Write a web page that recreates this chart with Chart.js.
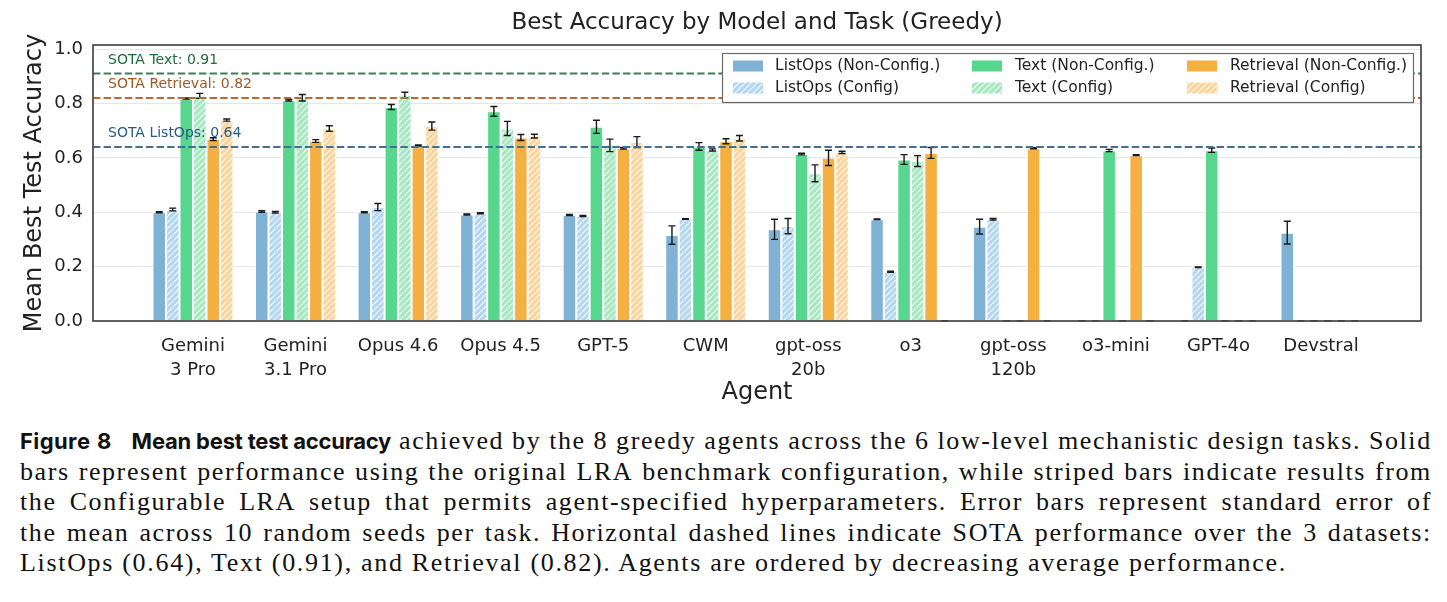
<!DOCTYPE html>
<html>
<head>
<meta charset="utf-8">
<script src="https://cdn.jsdelivr.net/npm/chart.js@4.4.1/dist/chart.umd.min.js"></script>
<style>
html, body { margin: 0; padding: 0; background: #fff; }
#wrap { position: relative; width: 1447px; height: 602px; overflow: hidden; }
#chart { position: absolute; left: 0; top: 0; }
#caption { position: absolute; left: 20px; top: 426px; width: 1412px; color: #111;
  font-family: "Liberation Serif", serif; font-size: 26px; letter-spacing: 1.6px; }
.line { display: flex; justify-content: space-between; white-space: nowrap; height: 30.5px; line-height: 30.5px; }
.line.last { display: block; letter-spacing: 1.68px; }
.b { font-family: Inter, "Noto Sans", sans-serif; font-weight: 700; font-size: 22px; letter-spacing: -0.2px; }
.fig { margin-right: 12px; letter-spacing: 0.4px; word-spacing: 1px; }
</style>
</head>
<body>
<div id="wrap">
  <canvas id="chart" width="1447" height="410"></canvas>
  <div id="caption"></div>
</div>
<script>
// categories
const agents = ['Gemini\n3 Pro', 'Gemini\n3.1 Pro', 'Opus 4.6', 'Opus 4.5', 'GPT-5', 'CWM',
  'gpt-oss\n20b', 'o3', 'gpt-oss\n120b', 'o3-mini', 'GPT-4o', 'Devstral'];

// mean best test accuracy + standard error
const listopsNC    = [0.400, 0.403, 0.400, 0.392, 0.390, 0.316, 0.337, 0.374, 0.347, 0, 0, 0.325];
const listopsNCErr = [0.002, 0.003, 0.002, 0.002, 0.002, 0.034, 0.037, 0.001, 0.027, 0, 0, 0.042];
const listopsC     = [0.410, 0.400, 0.419, 0.396, 0.386, 0.375, 0.349, 0.181, 0.374, 0, 0.198, 0];
const listopsCErr  = [0.005, 0.003, 0.013, 0.002, 0.002, 0.001, 0.028, 0.002, 0.003, 0, 0.001, 0];
const textNC       = [0.818, 0.812, 0.787, 0.771, 0.714, 0.642, 0.614, 0.594, 0, 0.627, 0.628, 0];
const textNCErr    = [0.002, 0.003, 0.009, 0.018, 0.024, 0.014, 0.003, 0.018, 0, 0.004, 0.008, 0];
const textC        = [0.828, 0.821, 0.831, 0.708, 0.646, 0.629, 0.543, 0.588, 0, 0, 0, 0];
const textCErr     = [0.009, 0.012, 0.010, 0.026, 0.023, 0.004, 0.031, 0.020, 0, 0, 0, 0];
const retrNC       = [0.669, 0.662, 0.645, 0.675, 0.635, 0.661, 0.600, 0.618, 0.635, 0.610, 0, 0];
const retrNCErr    = [0.005, 0.005, 0.002, 0.011, 0.003, 0.009, 0.028, 0.020, 0.002, 0.002, 0, 0];
const retrC        = [0.739, 0.708, 0.717, 0.680, 0.658, 0.672, 0.620, 0, 0, 0, 0, 0];
const retrCErr     = [0.004, 0.010, 0.015, 0.007, 0.020, 0.010, 0.004, 0, 0, 0, 0, 0];

// SOTA reference lines
const sotaNames  = ['Text', 'Retrieval', 'ListOps'];
const sotaValues = [0.91, 0.82, 0.64];

const yTicks = [0, 0.2, 0.4, 0.6, 0.8, 1.0];

// diagonal white hatch like matplotlib '///'
function hatch(base) {
  const c = document.createElement('canvas');
  c.width = c.height = 6;
  const g = c.getContext('2d');
  g.fillStyle = base;
  g.fillRect(0, 0, 6, 6);
  g.strokeStyle = 'rgba(255,255,255,0.9)';
  g.lineWidth = 1.1;
  g.beginPath();
  [-6, 0, 6].forEach(o => { g.moveTo(o, 6); g.lineTo(o + 6, 0); });
  g.stroke();
  return g.createPattern(c, 'repeat');
}

const series = [
  { label: 'ListOps (Non-Config.)', values: listopsNC, errors: listopsNCErr, fill: '#7fb2d5' },
  { label: 'ListOps (Config)',      values: listopsC,  errors: listopsCErr,  fill: hatch('#b3d6f1') },
  { label: 'Text (Non-Config.)',    values: textNC,    errors: textNCErr,    fill: '#57d68d' },
  { label: 'Text (Config)',         values: textC,     errors: textCErr,     fill: hatch('#a6e9c1') },
  { label: 'Retrieval (Non-Config.)', values: retrNC,  errors: retrNCErr,    fill: '#f5b041' },
  { label: 'Retrieval (Config)',    values: retrC,     errors: retrCErr,     fill: hatch('#fbd49c') }
];

const sotaStyle = {
  Text:      { line: '#3a7f58', text: '#1f6b3e' },
  Retrieval: { line: '#b46c34', text: '#a0561f' },
  ListOps:   { line: '#456f92', text: '#275b86' }
};

const FONT = 'DejaVu Sans';

const overlay = {
  id: 'overlay',
  afterDatasetsDraw(chart) {
    const { ctx, chartArea: a, scales: { y } } = chart;
    ctx.save();

    // error bars
    ctx.strokeStyle = '#1a1a1a';
    ctx.lineWidth = 1.4;
    chart.data.datasets.forEach((ds, di) => {
      chart.getDatasetMeta(di).data.forEach((bar, i) => {
        const v = ds.data[i].y, e = ds.errors[i];
        const cx = bar.x;
        const yt = y.getPixelForValue(v + e), yb = y.getPixelForValue(v - e);
        ctx.beginPath();
        ctx.moveTo(cx, yt); ctx.lineTo(cx, yb);
        ctx.moveTo(cx - 3.5, yt); ctx.lineTo(cx + 3.5, yt);
        ctx.moveTo(cx - 3.5, yb); ctx.lineTo(cx + 3.5, yb);
        ctx.stroke();
      });
    });

    // SOTA dashed lines + labels
    sotaNames.forEach((name, k) => {
      const py = y.getPixelForValue(sotaValues[k]);
      ctx.setLineDash([7.4, 3.2]);
      ctx.lineWidth = 2;
      ctx.strokeStyle = sotaStyle[name].line;
      ctx.beginPath();
      ctx.moveTo(a.left, py); ctx.lineTo(a.right, py);
      ctx.stroke();
      ctx.setLineDash([]);
      ctx.fillStyle = sotaStyle[name].text;
      ctx.font = '14px "' + FONT + '"';
      ctx.textAlign = 'left';
      ctx.textBaseline = 'middle';
      ctx.fillText('SOTA ' + name + ': ' + sotaValues[k].toFixed(2), a.left + 15, y.getPixelForValue(sotaValues[k] + 0.05));
    });

    // frame
    ctx.strokeStyle = '#474747';
    ctx.lineWidth = 1.7;
    ctx.strokeRect(a.left, a.top, a.width, a.height);

    // legend (3 columns x 2 rows)
    ctx.fillStyle = '#fff';
    ctx.fillRect(722, 53, 692, 50);
    ctx.strokeStyle = '#6a6a6a';
    ctx.lineWidth = 1.2;
    ctx.strokeRect(722.5, 53.5, 691, 49);
    const colSw = [733, 972, 1187], colTx = [775, 1015, 1230], rowY = [66, 88];
    ctx.font = '15.5px "' + FONT + '"';
    ctx.textBaseline = 'middle';
    series.forEach((s, k) => {
      const c = Math.floor(k / 2), r = k % 2;
      ctx.fillStyle = s.fill;
      ctx.fillRect(colSw[c], rowY[r] - 5.5, 30, 11);
      ctx.fillStyle = '#222';
      ctx.fillText(s.label, colTx[c], rowY[r]);
    });

    // chart title
    ctx.font = '23px "' + FONT + '"';
    ctx.textAlign = 'center';
    ctx.fillStyle = '#222';
    ctx.fillText('Best Accuracy by Model and Task (Greedy)', (a.left + a.right) / 2, 23);
    ctx.restore();
  }
};

new Chart(document.getElementById('chart'), {
  type: 'bar',
  data: {
    datasets: series.map(s => ({
      label: s.label,
      data: s.values.map((v, i) => ({ x: i, y: v })),
      errors: s.errors,
      backgroundColor: s.fill,
      borderColor: '#fff',
      borderWidth: 1,
      categoryPercentage: 0.79,
      barPercentage: 1
    }))
  },
  options: {
    responsive: false,
    animation: false,
    devicePixelRatio: 1,
    layout: { padding: { left: 0, top: 45, right: 26, bottom: 0 } },
    plugins: { legend: { display: false }, tooltip: { enabled: false }, title: { display: false } },
    scales: {
      x: {
        type: 'linear', min: -0.975, max: 11.975, offset: false,
        grid: { display: false, offset: false },
        border: { display: false },
        afterBuildTicks: s => { s.ticks = agents.map((_, i) => ({ value: i })); },
        afterFit: s => { s.height = 89; },
        ticks: {
          autoSkip: false, maxRotation: 0, minRotation: 0, padding: 6, color: '#222',
          font: { family: FONT, size: 18, lineHeight: 1.3 },
          callback: v => agents[v].split('\n')
        },
        title: { display: true, text: 'Agent', color: '#222', font: { family: FONT, size: 24 }, padding: { top: 0, bottom: 3 } }
      },
      y: {
        min: 0, max: 1.015,
        afterBuildTicks: s => { s.ticks = yTicks.map(v => ({ value: v })); },
        afterFit: s => { s.width = 93; },
        grid: { color: '#e6e6e6', lineWidth: 1, drawTicks: false },
        border: { display: false },
        ticks: { padding: 10, color: '#222', font: { family: FONT, size: 18 }, callback: v => v.toFixed(1) },
        title: { display: true, text: 'Mean Best Test Accuracy', color: '#222', font: { family: FONT, size: 24 }, padding: { top: 20 } }
      }
    }
  },
  plugins: [overlay]
});

// caption, laid out line by line as in the paper
const captionLines = [
  'achieved by the 8 greedy agents across the 6 low-level mechanistic design tasks. Solid',
  'bars represent performance using the original LRA benchmark configuration, while striped bars indicate results from',
  'the Configurable LRA setup that permits agent-specified hyperparameters. Error bars represent standard error of',
  'the mean across 10 random seeds per task. Horizontal dashed lines indicate SOTA performance over the 3 datasets:',
  'ListOps (0.64), Text (0.91), and Retrieval (0.82). Agents are ordered by decreasing average performance.'
];
const cap = document.getElementById('caption');
captionLines.forEach((txt, k) => {
  const div = document.createElement('div');
  div.className = 'line';
  if (k === captionLines.length - 1) {
    div.className = 'line last';
    div.textContent = txt;
  } else {
    if (k === 0) {
      const f = document.createElement('span');
      f.className = 'b fig'; f.textContent = 'Figure 8';
      const m = document.createElement('span');
      m.className = 'b'; m.textContent = 'Mean best test accuracy';
      div.appendChild(f); div.appendChild(m);
    }
    txt.split(' ').forEach(w => {
      const sp = document.createElement('span');
      sp.textContent = w;
      div.appendChild(sp);
    });
  }
  cap.appendChild(div);
});
</script>
</body>
</html>
